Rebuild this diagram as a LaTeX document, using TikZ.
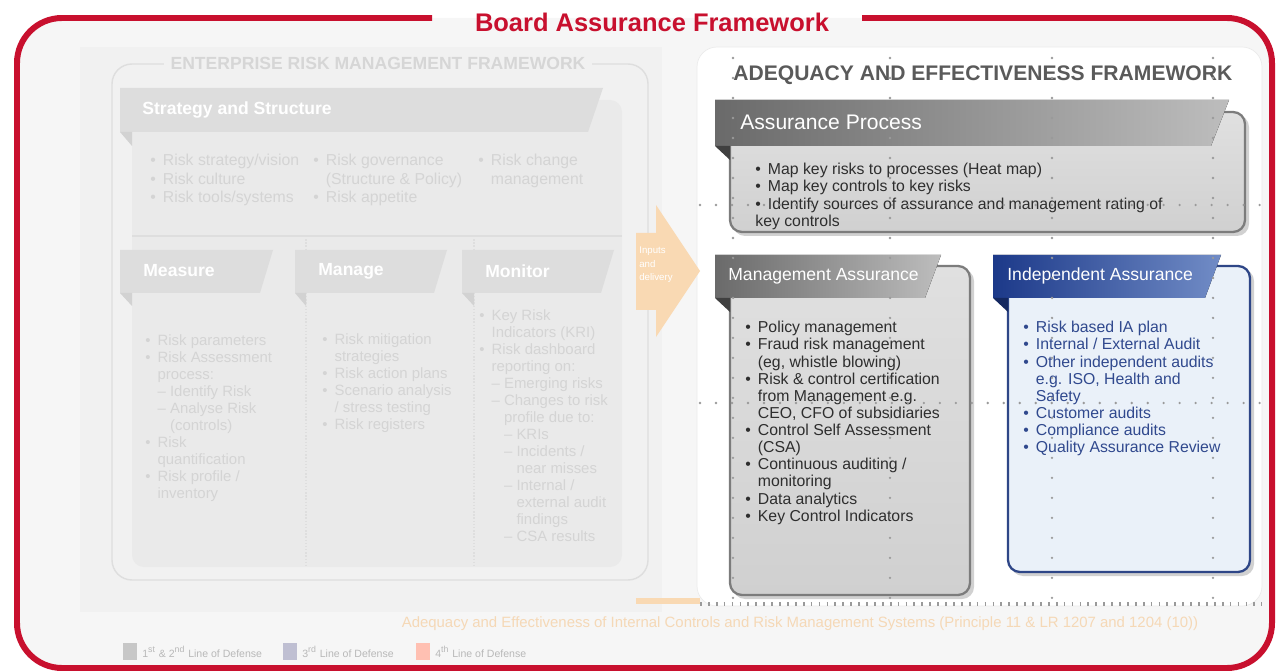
\documentclass[tikz,border=0pt]{standalone}
\usepackage{fontspec}
\setmainfont{Liberation Sans}

\definecolor{bafred}{HTML}{C8102E}
\definecolor{innerbg}{HTML}{F6F6F6}
\definecolor{ermbg}{HTML}{F1F1F1}
\definecolor{ermbody}{HTML}{EAEAEA}
\definecolor{ermhead}{HTML}{DDDDDD}
\definecolor{ermfoldc}{HTML}{D2D2D2}
\definecolor{ermtext}{HTML}{D4D4D4}
\definecolor{ermline}{HTML}{DEDEDE}
\definecolor{aefgreyd}{HTML}{6A6A6A}
\definecolor{aefgreyl}{HTML}{BDBDBD}
\definecolor{aefbodyt}{HTML}{E0E0E0}
\definecolor{aefbodyb}{HTML}{D0D0D0}
\definecolor{aefedge}{HTML}{7C7C7C}
\definecolor{aeftext}{HTML}{2E2E2E}
\definecolor{aeftitle}{HTML}{5A5A5A}
\definecolor{aefblued}{HTML}{1C3989}
\definecolor{aefbluel}{HTML}{718CC6}
\definecolor{aefbluebody}{HTML}{EAF1F9}
\definecolor{aefblueedge}{HTML}{2E4687}
\definecolor{aefbluetext}{HTML}{30498E}
\definecolor{inputorange}{HTML}{F9D9B3}
\definecolor{notetext}{HTML}{F5D8B6}
\definecolor{dotgrey}{HTML}{9A9A9A}

\newcommand{\bafbul}{\textbullet\hspace{4pt}}
\newcommand{\bafind}{\hphantom{\textbullet\hspace{4pt}}}

\begin{document}
\begin{tikzpicture}[x=0.02cm, y=-0.02cm,
    redframe/.style={draw=bafred, line width=3.4pt, rounded corners=0.9cm},
    ermhead/.style={fill=ermhead},
    ermfold/.style={fill=ermfoldc},
    ermlabel/.style={anchor=west, inner sep=0pt, text=white, font=\fontsize{10}{12}\selectfont\bfseries},
    ermlist/.style={anchor=north west, inner sep=0pt, align=left, text=ermtext, font=\fontsize{8.5}{9.7}\selectfont},
    aefhead/.style={left color=aefgreyd, right color=aefgreyl},
    bluehead/.style={left color=aefblued, right color=aefbluel},
    boxshadow/.style={fill=black!18, rounded corners=0.24cm},
    aefbox/.style={top color=aefbodyt, bottom color=aefbodyb, draw=aefedge, line width=1.3pt, rounded corners=0.24cm},
    bluebox/.style={fill=aefbluebody, draw=aefblueedge, line width=1.3pt, rounded corners=0.24cm},
    headlabel/.style={anchor=west, inner sep=0pt, text=white, font=\fontsize{10}{12}\selectfont},
    aeflist/.style={anchor=north west, inner sep=0pt, align=left, text=aeftext, font=\fontsize{9}{9.75}\selectfont},
    dotcol/.style={draw=dotgrey, line width=1.5pt, line cap=round, dash pattern=on 0pt off 11.38pt},
    dotrow/.style={draw=dotgrey, line width=1.5pt, line cap=round, dash pattern=on 0pt off 9.1pt},
    legendtext/.style={anchor=west, inner sep=0pt, text=black!28, font=\fontsize{6}{7}\selectfont}
]
    \useasboundingbox (0,0) rectangle (1285,672);

    % Hintergrund
    \fill[innerbg, rounded corners=0.9cm] (17,18) rectangle (1272,668);
    \fill[ermbg] (80,47) rectangle (662,612);
    \fill[white, draw=black!8, rounded corners=0.4cm] (697,47) rectangle (1262,606);

    % Rahmen und Titel
    \draw[redframe] (862,18) -- (1272,18) -- (1272,668) -- (17,668) -- (17,18) -- (432,18);
    \node[text=bafred, font=\fontsize{14.5}{16}\selectfont\bfseries] (title) at (652,22) {Board Assurance Framework};

    % Enterprise Risk Management Framework (links, blass)
    \draw[ermline, line width=0.8pt, rounded corners=0.4cm] (112,64) rectangle (648,580);
    \node[fill=ermbg, text=black!16, inner xsep=4pt, font=\fontsize{10}{12}\selectfont\bfseries] (ermtitle) at (378,63) {ENTERPRISE RISK MANAGEMENT FRAMEWORK};
    \fill[ermbody, rounded corners=0.24cm] (132,100) rectangle (622,567);
    \fill[ermhead] (120,88) -- (603,88) -- (588,132) -- (120,132) -- cycle;
    \fill[ermfold] (120,132) -- (132,132) -- (132,146) -- cycle;
    \node[ermlabel] (strathead) at (142,110) {Strategy and Structure};
    \node[ermlist, font=\fontsize{9}{10.5}\selectfont] (strat1) at (150,154) {\bafbul Risk strategy/vision\\ \bafbul Risk culture\\ \bafbul Risk tools/systems};
    \node[ermlist, font=\fontsize{9}{10.5}\selectfont] (strat2) at (313,154) {\bafbul Risk governance\\ \bafind (Structure \& Policy)\\ \bafbul Risk appetite};
    \node[ermlist, font=\fontsize{9}{10.5}\selectfont] (strat3) at (478,154) {\bafbul Risk change\\ \bafind management};
    \draw[ermline, line width=1.2pt] (132,236) -- (622,236);
    \draw[ermline, line width=0.8pt, densely dotted] (306,236) -- (306,567);
    \draw[ermline, line width=0.8pt, densely dotted] (474,236) -- (474,567);

    \fill[ermhead] (120,250) -- (273,250) -- (260,293) -- (120,293) -- cycle;
    \fill[ermfold] (120,293) -- (132,293) -- (132,306) -- cycle;
    \node[ermlabel] (measurehead) at (143,271) {Measure};
    \fill[ermhead] (295,250) -- (447,250) -- (434,293) -- (295,293) -- cycle;
    \fill[ermfold] (295,293) -- (306,293) -- (306,306) -- cycle;
    \node[ermlabel] (managehead) at (318,271) {Manage};
    \fill[ermhead] (462,250) -- (614,250) -- (601,293) -- (462,293) -- cycle;
    \fill[ermfold] (462,293) -- (474,293) -- (474,306) -- cycle;
    \node[ermlabel] (monitorhead) at (485,271) {Monitor};

    \node[ermlist] (measurelist) at (145,334) {\bafbul Risk parameters\\ \bafbul Risk Assessment\\ \bafind process:\\ \bafind -- Identify Risk\\ \bafind -- Analyse Risk\\ \bafind\hphantom{-- }(controls)\\ \bafbul Risk\\ \bafind quantification\\ \bafbul Risk profile /\\ \bafind inventory};
    \node[ermlist] (managelist) at (322,333) {\bafbul Risk mitigation\\ \bafind strategies\\ \bafbul Risk action plans\\ \bafbul Scenario analysis\\ \bafind / stress testing\\ \bafbul Risk registers};
    \node[ermlist] (monitorlist) at (479,309) {\bafbul Key Risk\\ \bafind Indicators (KRI)\\ \bafbul Risk dashboard\\ \bafind reporting on:\\ \bafind -- Emerging risks\\ \bafind -- Changes to risk\\ \bafind\hphantom{-- }profile due to:\\ \bafind\hphantom{-- }-- KRIs\\ \bafind\hphantom{-- }-- Incidents /\\ \bafind\hphantom{-- -- }near misses\\ \bafind\hphantom{-- }-- Internal /\\ \bafind\hphantom{-- -- }external audit\\ \bafind\hphantom{-- -- }findings\\ \bafind\hphantom{-- }-- CSA results};

    % Pfeil
    \fill[inputorange] (636,233) -- (656,233) -- (656,205) -- (700,271) -- (656,337) -- (656,310) -- (636,310) -- cycle;
    \node[anchor=north west, inner sep=0pt, align=left, text=white, font=\fontsize{5.5}{7.5}\selectfont] (arrowlabel) at (639,247) {Inputs\\ and\\ delivery};
    \fill[inputorange] (636,598) rectangle (700,604);

    % Adequacy and Effectiveness Framework (rechts)
    \node[anchor=west, inner sep=0pt, text=aeftitle, font=\fontsize{12}{14}\selectfont\bfseries] (aeftitle) at (733,75) {ADEQUACY AND EFFECTIVENESS FRAMEWORK};

    \fill[boxshadow] (733,115) rectangle (1249,236);
    \draw[aefbox] (730,112) rectangle (1245,232);
    \fill[aefhead] (715,100) -- (1229,100) -- (1211,146) -- (715,146) -- cycle;
    \fill[black!75] (715,146) -- (730,146) -- (730,160) -- cycle;
    \node[headlabel, font=\fontsize{12}{14}\selectfont] (processhead) at (740,122) {Assurance Process};
    \node[aeflist] (processlist) at (755,163) {\bafbul Map key risks to processes (Heat map)\\ \bafbul Map key controls to key risks\\ \bafbul Identify sources of assurance and management rating of\\ key controls};

    \fill[boxshadow] (733,269) rectangle (974,599);
    \draw[aefbox] (730,266) rectangle (970,595);
    \fill[aefhead] (715,255) -- (941,255) -- (925,298) -- (715,298) -- cycle;
    \fill[black!75] (715,298) -- (730,298) -- (730,312) -- cycle;
    \node[headlabel] (mgmthead) at (728,276) {Management Assurance};
    \node[aeflist] (mgmtlist) at (745,321) {\bafbul Policy management\\ \bafbul Fraud risk management\\ \bafind (eg, whistle blowing)\\ \bafbul Risk \& control certification\\ \bafind from Management e.g.\\ \bafind CEO, CFO of subsidiaries\\ \bafbul Control Self Assessment\\ \bafind (CSA)\\ \bafbul Continuous auditing /\\ \bafind monitoring\\ \bafbul Data analytics\\ \bafbul Key Control Indicators};

    \fill[boxshadow] (1011,269) rectangle (1254,576);
    \draw[bluebox] (1008,266) rectangle (1250,572);
    \fill[bluehead] (993,255) -- (1221,255) -- (1205,298) -- (993,298) -- cycle;
    \fill[aefblued!70!black] (993,298) -- (1008,298) -- (1008,312) -- cycle;
    \node[headlabel] (indhead) at (1007,276) {Independent Assurance};
    \node[aeflist, text=aefbluetext] (indlist) at (1023,321) {\bafbul Risk based IA plan\\ \bafbul Internal / External Audit\\ \bafbul Other independent audits\\ \bafind e.g. ISO, Health and\\ \bafind Safety\\ \bafbul Customer audits\\ \bafbul Compliance audits\\ \bafbul Quality Assurance Review};

    % Punktraster
    \foreach \gx in {733,890,1052,1213}
        \draw[dotcol] (\gx,58) -- (\gx,600);
    \foreach \gy in {205,403}
        \draw[dotrow] (700,\gy) -- (1262,\gy);
    \draw[draw=dotgrey, line width=2pt, dash pattern=on 1pt off 3.5pt] (700,604) -- (1262,604);

    % Fusszeile
    \node[text=notetext, font=\fontsize{8.5}{10}\selectfont] (footnote) at (800,624) {Adequacy and Effectiveness of Internal Controls and Risk Management Systems (Principle 11 \& LR 1207 and 1204 (10))};
    \fill[black!22] (123,643) rectangle (137,660);
    \node[legendtext] (leg1) at (142,652) {1\textsuperscript{st} \& 2\textsuperscript{nd} Line of Defense};
    \fill[blue!30!black!25!white] (283,643) rectangle (297,660);
    \node[legendtext] (leg2) at (302,652) {3\textsuperscript{rd} Line of Defense};
    \fill[orange!35!red!30!white] (416,643) rectangle (430,660);
    \node[legendtext] (leg3) at (435,652) {4\textsuperscript{th} Line of Defense};
\end{tikzpicture}
\end{document}
